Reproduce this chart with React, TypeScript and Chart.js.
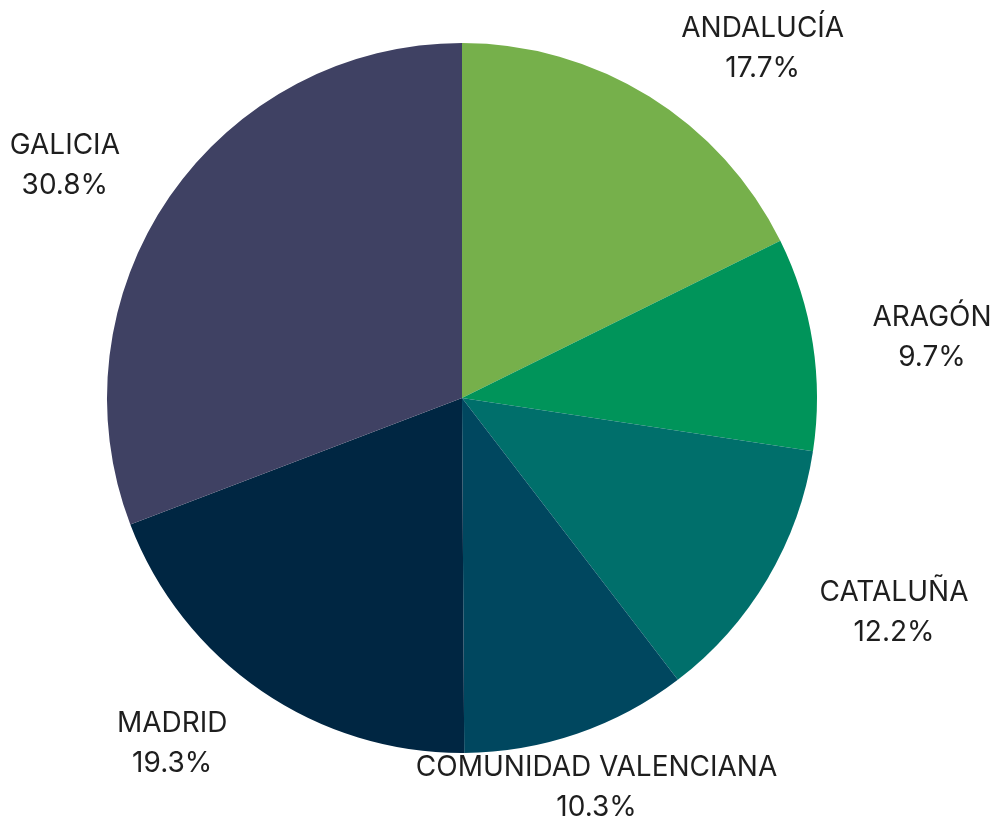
import React, { useEffect, useRef } from "react";
import { Chart, registerables } from "chart.js";

Chart.register(...registerables);

const regions = ["ANDALUCÍA", "ARAGÓN", "CATALUÑA", "COMUNIDAD VALENCIANA", "MADRID", "GALICIA"];
const shares = [17.7, 9.7, 12.2, 10.3, 19.3, 30.8];
const colors = ["#76b04b", "#00945a", "#006f6b", "#00475f", "#002642", "#3f4163"];

const FONT_SIZE = 28;
const LINE_GAP = 40;

const outsideLabels = {
  id: "outsideLabels",
  afterDatasetsDraw(chart: any) {
    const ctx = chart.ctx as CanvasRenderingContext2D;
    const meta = chart.getDatasetMeta(0);
    const data = chart.data.datasets[0].data as number[];
    const total = data.reduce((a, b) => a + b, 0);
    const W = chart.width;
    const H = chart.height;
    ctx.save();
    ctx.font = `${FONT_SIZE}px Inter, "Noto Sans", sans-serif`;
    ctx.fillStyle = "#1e1e1e";
    ctx.textAlign = "center";
    ctx.textBaseline = "middle";
    meta.data.forEach((arc: any, i: number) => {
      const p = arc.getProps(["x", "y", "startAngle", "endAngle", "outerRadius"], true);
      const mid = (p.startAngle + p.endAngle) / 2;
      const rl = p.outerRadius * 1.17;
      const ax = p.x + Math.cos(mid) * rl;
      let cy = p.y + Math.sin(mid) * rl + 3;
      const l1 = String(chart.data.labels[i]);
      const l2 = ((data[i] / total) * 100).toFixed(1) + "%";
      const w = Math.max(ctx.measureText(l1).width, ctx.measureText(l2).width);
      const horiz = Math.cos(mid); // >0 right side, <0 left side
      const fromVertical = Math.asin(Math.min(1, Math.abs(horiz))) * 180 / Math.PI;
      let cx = ax;
      if (fromVertical > 25) cx = horiz > 0 ? ax + w / 2 : ax - w / 2;
      const halfH = LINE_GAP / 2 + FONT_SIZE / 2;
      if (cy - halfH < 0) cy = halfH;
      if (cy + halfH > H) cy = H - halfH;
      if (cx - w / 2 < 1) cx = 1 + w / 2;
      if (cx + w / 2 > W - 1) cx = W - 1 - w / 2;
      ctx.fillText(l1, cx, cy - LINE_GAP / 2);
      ctx.fillText(l2, cx, cy + LINE_GAP / 2);
    });
    ctx.restore();
  },
};

export default function App() {
  const ref = useRef<HTMLCanvasElement>(null);
  useEffect(() => {
    const chart = new Chart(ref.current!, {
      type: "pie",
      data: {
        labels: regions,
        datasets: [
          {
            data: shares,
            backgroundColor: colors,
            borderWidth: 0,
          },
        ],
      },
      options: {
        animation: false,
        responsive: false,
        maintainAspectRatio: false,
        layout: { padding: { left: 107, right: 181, top: 43, bottom: 69 } },
        plugins: {
          legend: { display: false },
          tooltip: { enabled: false },
        },
      },
      plugins: [outsideLabels],
    });
    return () => chart.destroy();
  }, []);
  return (
    <div style={{ position: "fixed", left: 0, top: 0, width: 998, height: 822, background: "#fff" }}>
      <canvas ref={ref} width={998} height={822} style={{ display: "block" }} />
    </div>
  );
}
